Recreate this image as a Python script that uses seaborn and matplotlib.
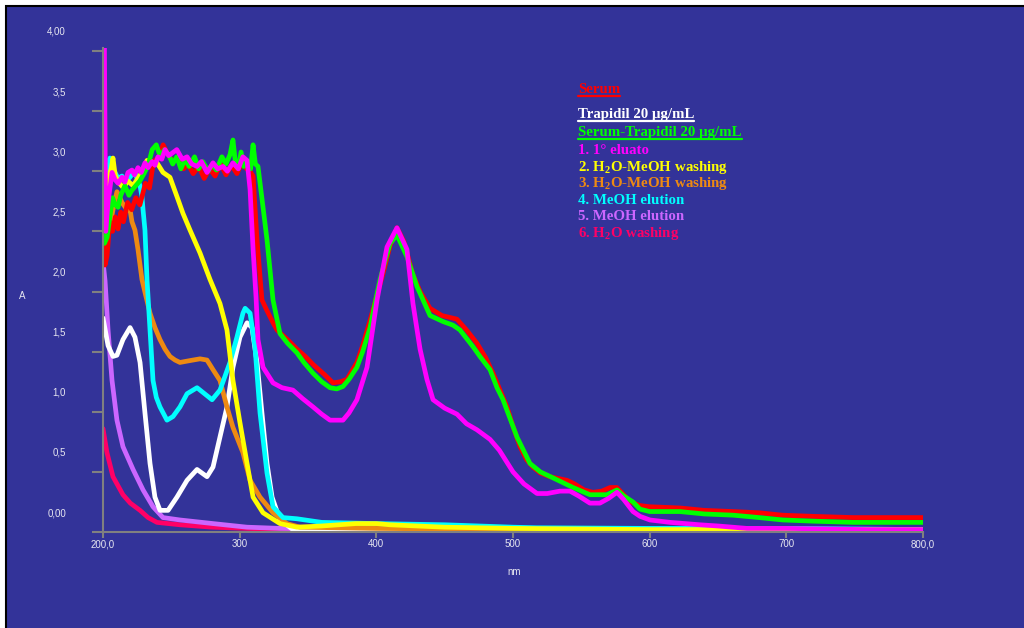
import matplotlib
matplotlib.use("Agg")
import matplotlib.pyplot as plt
import matplotlib.transforms as mtransforms
from matplotlib.patches import Rectangle
from matplotlib.lines import Line2D
import pandas as pd
import seaborn as sns

# ---------------------------------------------------------------------------
# UV-Vis spectra: wavelength (nm) and absorbance (A)
# ---------------------------------------------------------------------------
serum_nm = [200, 201.5, 203, 205, 207, 209, 211, 213, 215, 218, 221, 224, 227, 231, 234,
            237, 241, 244, 247, 251, 255, 259, 262, 266, 270, 274, 278, 282, 286, 290,
            294, 298, 302, 305, 307.6, 309.8, 312.7, 316.3, 320, 324.4, 327.3, 335, 342,
            348, 354, 362, 368.3, 374, 378.5, 385.8, 390, 395.4, 400, 404.9, 410, 415.1,
            420, 426.8, 432, 439.3, 448, 459, 466, 473.6, 480, 485.4, 490.5, 495.6, 500,
            505.1, 510, 514.6, 520, 527, 539.5, 545, 552, 558.5, 565, 571, 576, 581, 586,
            593, 600, 622, 640, 661, 680, 697, 720, 749, 800]
serum_abs = [2.45, 2.22, 2.30, 2.58, 2.50, 2.62, 2.52, 2.66, 2.58, 2.74, 2.68, 2.78, 2.72,
             2.90, 2.86, 3.08, 3.12, 3.22, 3.15, 3.08, 3.12, 3.02, 3.06, 2.98, 3.04, 2.94,
             3.02, 2.96, 3.06, 2.97, 3.05, 2.98, 3.08, 3.02, 3.00, 2.96, 2.43, 1.93, 1.84,
             1.74, 1.68, 1.60, 1.52, 1.46, 1.39, 1.31, 1.24, 1.25, 1.27, 1.41, 1.55, 1.76,
             1.95, 2.15, 2.38, 2.53, 2.42, 2.14, 2.00, 1.86, 1.80, 1.77, 1.68, 1.57, 1.45,
             1.32, 1.18, 1.04, 0.88, 0.71, 0.60, 0.54, 0.49, 0.46, 0.43, 0.40, 0.35, 0.33,
             0.34, 0.37, 0.37, 0.31, 0.25, 0.22, 0.21, 0.20, 0.18, 0.17, 0.16, 0.14, 0.13,
             0.12, 0.12]

trap_nm = [200, 203.7, 207.3, 210.2, 214.6, 219.8, 223.4, 227.1, 230.7, 234.4, 238, 241.7,
           247.6, 254.1, 261.5, 268.8, 276.1, 280.5, 285.6, 290.7, 295.1, 300.2, 305.4, 309,
           312.7, 316.3, 320, 323.7, 329.5, 339, 400, 500, 600, 700, 800]
trap_abs = [1.78, 1.55, 1.46, 1.47, 1.60, 1.70, 1.62, 1.41, 0.99, 0.57, 0.29, 0.18, 0.18,
            0.29, 0.43, 0.52, 0.46, 0.54, 0.79, 1.04, 1.37, 1.62, 1.74, 1.70, 1.41, 0.99,
            0.57, 0.29, 0.10, 0.02, 0.02, 0.01, 0.01, 0.01, 0.01]

mix_nm = [200, 201, 203, 205, 207, 209, 211, 213, 216, 219, 221, 224, 227, 230, 233, 236,
          239, 242, 245, 248, 251, 254, 257, 260, 263, 267, 270, 273, 277, 280, 283, 287,
          290, 293, 295.1, 297, 299, 301, 303, 306, 308, 309.8, 311.5, 313.4, 317.1, 320,
          324.4, 329.5, 335, 341.9, 347, 353.7, 360, 366.1, 371, 375.6, 380, 385.8, 390,
          395.4, 402.7, 410, 415.1, 422.4, 429.8, 439.3, 448.8, 456.1, 461.2, 470.8, 475.8,
          483.2, 488.3, 492.7, 502.9, 512.4, 520, 529.3, 543.9, 556.3, 568.8, 576.1, 581,
          587.8, 592.9, 600, 622, 640, 661, 680, 697.5, 720, 748.8, 800]
mix_abs = [4.10, 2.40, 2.45, 2.62, 2.78, 2.72, 2.70, 2.80, 2.88, 2.80, 2.84, 2.88, 2.92,
           2.98, 3.05, 3.18, 3.22, 3.12, 3.18, 3.14, 3.06, 3.12, 3.02, 3.10, 3.04, 3.12,
           3.02, 3.08, 3.00, 3.06, 3.01, 3.12, 3.06, 3.14, 3.26, 3.06, 3.02, 3.16, 3.04,
           3.08, 3.02, 3.22, 3.06, 3.04, 2.70, 2.43, 1.93, 1.65, 1.57, 1.49, 1.41, 1.32,
           1.25, 1.20, 1.19, 1.21, 1.27, 1.37, 1.50, 1.70, 2.10, 2.40, 2.47, 2.29, 2.04,
           1.80, 1.75, 1.72, 1.68, 1.54, 1.46, 1.35, 1.20, 1.10, 0.79, 0.57, 0.50, 0.45,
           0.37, 0.31, 0.31, 0.35, 0.30, 0.25, 0.19, 0.17, 0.17, 0.15, 0.14, 0.12, 0.10,
           0.09, 0.08, 0.08]

elu1_nm = [200, 201, 202, 203.7, 206.6, 208.8, 211, 213.9, 216, 218.3, 221.2, 223, 225.6,
           228, 230.7, 233, 235.9, 238, 240.2, 243, 245.4, 248, 250.5, 254, 258, 261.5,
           265, 268.8, 272, 276.1, 280.5, 284, 287.8, 291, 295.1, 299, 302.4, 305.4, 307.6,
           309.8, 312, 313.4, 317.1, 324.4, 331, 339, 346, 353.7, 360, 366.1, 375.6, 380,
           385.8, 393.2, 400.5, 407.8, 415.1, 422.4, 426.8, 432, 437, 441.5, 450, 459, 466,
           473.6, 483.2, 490, 500, 508, 517.6, 525, 534.4, 541.7, 548, 556.3, 563.6, 570,
           576.1, 581, 587.8, 593, 600.2, 615, 636.8, 650, 671.2, 700, 759, 800]
elu1_abs = [4.10, 4.10, 2.50, 2.74, 2.99, 2.93, 2.90, 2.95, 2.91, 2.99, 3.01, 2.97, 3.03,
            2.99, 3.07, 3.03, 3.08, 3.05, 3.12, 3.10, 3.18, 3.13, 3.15, 3.18, 3.10, 3.12,
            3.06, 3.04, 3.08, 2.99, 3.07, 3.02, 3.04, 3.00, 3.07, 3.02, 3.12, 3.09, 2.85,
            2.35, 1.95, 1.60, 1.37, 1.24, 1.20, 1.18, 1.11, 1.04, 0.98, 0.93, 0.93, 0.99,
            1.10, 1.37, 1.93, 2.37, 2.53, 2.35, 1.90, 1.52, 1.27, 1.10, 1.03, 0.98, 0.90,
            0.85, 0.77, 0.68, 0.50, 0.40, 0.32, 0.32, 0.34, 0.34, 0.30, 0.24, 0.24, 0.28,
            0.33, 0.27, 0.17, 0.13, 0.10, 0.08, 0.06, 0.05, 0.03, 0.03, 0.02, 0.02]

wash2_nm = [200, 200.5, 202, 204, 206, 207.3, 209, 212, 215, 218, 222, 226, 229, 232.2,
            235.9, 239.5, 243.9, 249, 254.1, 258.5, 263.7, 271, 278.3, 285.6, 290.7, 295.1,
            300.2, 305.4, 309.8, 317.1, 329.5, 341.9, 360, 385, 400, 410, 450, 500, 600,
            700, 800]
wash2_abs = [3.11, 2.82, 2.85, 2.95, 3.02, 3.11, 2.96, 2.90, 2.86, 2.92, 2.88, 2.95, 3.00,
             3.09, 3.08, 3.07, 2.99, 2.95, 2.79, 2.65, 2.51, 2.32, 2.10, 1.90, 1.68, 1.26,
             0.91, 0.57, 0.29, 0.16, 0.07, 0.04, 0.05, 0.07, 0.07, 0.06, 0.04, 0.03, 0.02,
             0.02, 0.02]

wash3_nm = [200, 203, 206, 208, 210.2, 213.9, 217.6, 219.8, 221.2, 223.4, 225.6, 228.5,
            231, 234.4, 238, 241.7, 245.4, 249, 252.7, 256.3, 261, 265.9, 271, 276.1, 280.5,
            285.6, 290.7, 295.1, 302.4, 307.6, 314.9, 324.4, 334.6, 344.1, 400, 500, 600,
            700, 800]
wash3_abs = [2.55, 2.68, 2.60, 2.72, 2.83, 2.74, 2.68, 2.68, 2.58, 2.51, 2.35, 2.10, 1.98,
             1.82, 1.70, 1.60, 1.52, 1.46, 1.43, 1.41, 1.42, 1.43, 1.44, 1.43, 1.35, 1.26,
             1.04, 0.87, 0.66, 0.43, 0.29, 0.16, 0.07, 0.04, 0.03, 0.02, 0.02, 0.02, 0.02]

elu4_nm = [200, 202, 204, 205.1, 206.6, 208.8, 211, 213.9, 216, 218.3, 221, 223.4, 225.6,
           227.1, 228.5, 229.3, 230.7, 232.2, 234.4, 236.6, 239, 241.7, 246.8, 251.2, 256.3,
           261.5, 268.8, 273.2, 279.8, 285.6, 292.9, 298, 302.4, 304, 307.6, 311.2, 314.9,
           320, 324.4, 331.7, 341.9, 360, 400, 450, 500, 517, 600, 700, 800]
elu4_abs = [2.40, 2.75, 3.00, 3.11, 2.95, 2.99, 2.94, 2.96, 2.92, 2.93, 2.97, 2.99, 2.92,
            2.88, 2.79, 2.68, 2.51, 2.10, 1.68, 1.26, 1.12, 1.04, 0.93, 0.96, 1.04, 1.15,
            1.20, 1.16, 1.10, 1.18, 1.41, 1.62, 1.82, 1.86, 1.82, 1.54, 0.99, 0.49, 0.21,
            0.12, 0.11, 0.08, 0.07, 0.06, 0.04, 0.035, 0.03, 0.03, 0.02]

elu5_nm = [200, 201.5, 203.7, 206.6, 210.2, 214.6, 222, 229.3, 236.6, 243.9, 256.3, 280.5,
           305.4, 329.5, 400, 500, 600, 700, 800]
elu5_abs = [2.25, 2.09, 1.68, 1.26, 0.93, 0.71, 0.52, 0.35, 0.21, 0.12, 0.10, 0.07, 0.04,
            0.03, 0.02, 0.02, 0.02, 0.01, 0.01]

wash6_nm = [200, 202.9, 207.3, 214.6, 220, 227.1, 233, 239.5, 256.3, 280, 329.5, 400, 500,
            600, 700, 800]
wash6_abs = [0.86, 0.66, 0.46, 0.31, 0.24, 0.18, 0.12, 0.08, 0.06, 0.04, 0.02, 0.01, 0.01,
             0.01, 0.01, 0.01]

x_ticks = [200, 300, 400, 500, 600, 700, 800]
x_tick_labels = ["200,0", "300", "400", "500", "600", "700", "800,0"]
y_ticks = [0, 0.5, 1.0, 1.5, 2.0, 2.5, 3.0, 3.5, 4.0]
y_tick_labels = ["0,00", "0,5", "1,0", "1,5", "2,0", "2,5", "3,0", "3,5", "4,00"]

# legend entries (label, colour, underlined) in listing order
legend_entries = [
    ("Serum", "#FF0000", True),
    ("Trapidil 20 μg/mL", "#FFFFFF", True),
    ("Serum-Trapidil 20 μg/mL", "#00FF00", True),
    ("1. 1° eluato", "#FF00FF", False),
    ("2. H$_\\mathregular{2}$O-MeOH washing", "#FFFF00", False),
    ("3. H$_\\mathregular{2}$O-MeOH washing", "#EE8A12", False),
    ("4. MeOH elution", "#00FFFF", False),
    ("5. MeOH elution", "#CC66FF", False),
    ("6. H$_\\mathregular{2}$O washing", "#FF0066", False),
]
legend_baselines = [93, 118, 136, 154, 170.5, 187, 203.5, 220, 237]

# spectra in drawing order (bottom first)
spectra = [
    (wash6_nm, wash6_abs, "#FF0066"),
    (elu5_nm, elu5_abs, "#CC66FF"),
    (trap_nm, trap_abs, "#FFFFFF"),
    (wash3_nm, wash3_abs, "#EE8A12"),
    (elu4_nm, elu4_abs, "#00FFFF"),
    (wash2_nm, wash2_abs, "#FFFF00"),
    (serum_nm, serum_abs, "#FF0000"),
    (mix_nm, mix_abs, "#00FF00"),
    (elu1_nm, elu1_abs, "#FF00FF"),
]

BG = "#333399"
AXC = "#808080"
TXT = "#E6E6F0"
W, H = 1024, 628

sns.set_style("ticks")
plt.rcParams["font.family"] = ["Liberation Sans", "DejaVu Sans"]

fig = plt.figure(figsize=(W / 100, H / 100), dpi=100, facecolor="white")
fig.add_artist(Rectangle((6 / W, -0.05), 1.1, (H - 6) / H + 0.05,
                         transform=fig.transFigure, facecolor=BG,
                         edgecolor="black", lw=1.5, zorder=-1))

ax = fig.add_axes([103 / W, (H - 532) / H, (923 - 103) / W, (532 - 48) / H])
ax.set_facecolor("none")

for nm, a, col in spectra:
    df = pd.DataFrame({"nm": nm, "A": a})
    sns.lineplot(data=df, x="nm", y="A", color=col, lw=3.4, estimator=None,
                 sort=False, legend=False, ax=ax)
for ln in ax.get_lines():
    ln.set_solid_joinstyle("round")
    ln.set_solid_capstyle("round")

ax.set_xlim(200, 800)
ax.set_ylim(0, (532 - 48) / 120.25)
ax.set_xlabel("")
ax.set_ylabel("")

for side in ("top", "right"):
    ax.spines[side].set_visible(False)
for side in ("left", "bottom"):
    ax.spines[side].set_color(AXC)
    ax.spines[side].set_linewidth(1.5)

ax.set_xticks(x_ticks)
ax.set_xticklabels(x_tick_labels)
ax.tick_params(axis="x", length=4, width=1.5, color=AXC, pad=1.2,
               labelsize=7, labelcolor=TXT)
ax.set_yticks(y_ticks)
ax.tick_params(axis="y", length=8, width=1.5, color=AXC, labelleft=False)

# value labels of the absorbance axis sit a little above their tick marks
ylab_tr = mtransforms.offset_copy(ax.get_yaxis_transform(), fig=fig,
                                  x=-37, y=19, units="dots")
for v, s in zip(y_ticks, y_tick_labels):
    ax.text(0, v, s, transform=ylab_tr, ha="right", va="center",
            fontsize=7, color=TXT, clip_on=False)

fig.text(22 / W, 1 - 296 / H, "A", ha="center", va="center", fontsize=7, color=TXT)
fig.text(514 / W, 1 - 572 / H, "nm", ha="center", va="center", fontsize=7, color=TXT)

# legend as coloured serif captions
legend_texts = []
for (label, col, under), base in zip(legend_entries, legend_baselines):
    t = fig.text(578 / W, 1 - base / H, label, ha="left", va="baseline",
                 fontsize=10.7, fontweight="bold", color=col,
                 family=["Liberation Serif", "DejaVu Serif"])
    legend_texts.append((t, col, under, base))

fig.canvas.draw()
renderer = fig.canvas.get_renderer()
for t, col, under, base in legend_texts:
    if under:
        bb = t.get_window_extent(renderer)
        yy = 1 - (base + 2.7) / H
        fig.add_artist(Line2D([bb.x0 / W, bb.x1 / W], [yy, yy],
                              transform=fig.transFigure, color=col, lw=1.6))

fig.savefig("out.png", dpi=100, facecolor="white")
